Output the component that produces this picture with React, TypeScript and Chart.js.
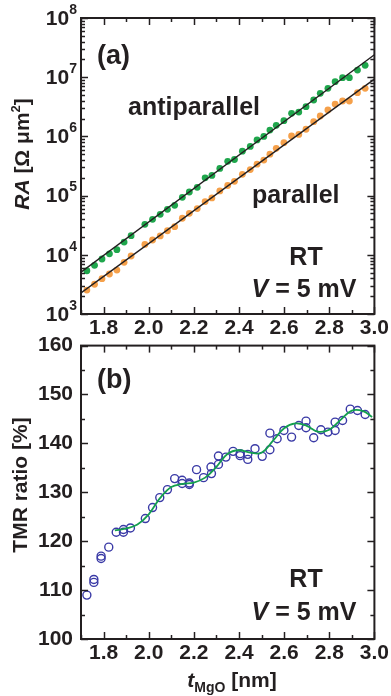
import React, { useEffect, useRef } from 'react';
import { Chart, registerables } from 'chart.js';
Chart.register(...registerables);

// ---------- data ----------
const thicknessA = [1.726, 1.760, 1.793, 1.826, 1.859, 1.891, 1.922, 1.983, 2.017, 2.051, 2.083, 2.115, 2.149,
  2.180, 2.215, 2.250, 2.280, 2.315, 2.350, 2.380, 2.415, 2.450, 2.480, 2.510, 2.537, 2.565, 2.599, 2.633,
  2.665, 2.697, 2.731, 2.760, 2.794, 2.826, 2.859, 2.889, 2.925, 2.959];
const raAntiparallel = [5380, 6650, 8490, 10400, 12200, 16400, 21000, 32700, 39800, 48300, 58700, 68600, 93500,
  115000, 138000, 200000, 219000, 288000, 380000, 407000, 562000, 676000, 871000, 1000000, 1280000, 1540000,
  1840000, 2450000, 2580000, 3180000, 4120000, 5350000, 6490000, 8390000, 9820000, 9820000, 13200000, 15900000];
const raParallel = [2540, 3180, 3950, 4740, 5530, 7460, 9550, 15000, 17800, 20800, 25500, 29900, 41400,
  50100, 60300, 79400, 91200, 120000, 148000, 174000, 229000, 275000, 339000, 398000, 501000, 630000,
  783000, 1016000, 1080000, 1320000, 1770000, 2210000, 2790000, 3520000, 3960000, 3960000, 5470000, 6490000];
const fitX = [1.7, 3.0];
const fitAntiparallel = [5100, 24000000];
const fitParallel = [2270, 9300000];

const tmrX = [1.726, 1.757, 1.757, 1.789, 1.789, 1.823, 1.856, 1.888, 1.888, 1.919, 1.985, 2.017, 2.049, 2.083,
  2.115, 2.148, 2.148, 2.180, 2.180, 2.212, 2.243, 2.276, 2.278, 2.309, 2.309, 2.342, 2.374, 2.405, 2.405,
  2.439, 2.439, 2.471, 2.503, 2.537, 2.537, 2.569, 2.599, 2.633, 2.665, 2.697, 2.697, 2.731, 2.763, 2.794,
  2.826, 2.826, 2.859, 2.893, 2.925, 2.959];
const tmrRatio = [108.98, 111.57, 112.18, 116.47, 116.94, 118.78, 121.84, 121.84, 122.39, 122.71, 124.63, 126.88,
  128.92, 130.55, 132.8, 132.45, 131.8, 131.9, 131.6, 134.63, 133.0, 135.16, 133.82, 137.41, 135.71, 137.2,
  138.37, 137.9, 137.5, 136.73, 137.76, 138.92, 137.35, 138.71, 142.1, 140.96, 142.65, 141.29, 143.67, 144.55,
  143.2, 141.16, 142.8, 142.31, 142.65, 144.35, 144.69, 147.0, 146.73, 145.92];
const smoothX = [1.85, 1.90, 1.95, 2.00, 2.05, 2.10, 2.15, 2.20, 2.25, 2.30, 2.35, 2.40, 2.45, 2.50, 2.55,
  2.60, 2.65, 2.70, 2.75, 2.80, 2.85, 2.90, 2.95, 2.99];
const smoothY = [122.2, 122.6, 123.4, 125.5, 128.8, 131.1, 131.7, 132.0, 133.0, 135.2, 137.9, 138.6, 138.1,
  138.1, 140.5, 143.1, 144.1, 143.6, 142.4, 142.8, 144.8, 146.7, 146.6, 145.4];

const xMin = 1.7, xMax = 3.0, xStep = 0.1;
const raMin = 1e3, raMax = 1e8;
const tmrMin = 100, tmrMax = 160, tmrStep = 5;

// ---------- styles ----------
const FAM = '"Liberation Sans", Arial, Helvetica, sans-serif';
const INK = '#231f20';
const GREEN_DOT = '#1fa64c';
const ORANGE_DOT = '#f5a04a';
const BLUE = '#3a3aa6';
const GREEN_LINE = '#14a04e';

type Seg = { t: string; size: number; italic?: boolean; dy?: number };
const fontOf = (s: Seg) => `${s.italic ? 'italic ' : ''}bold ${s.size}px ${FAM}`;

function drawRich(ctx: CanvasRenderingContext2D, segs: Seg[], x: number, y: number, align: 'left' | 'center' | 'right') {
  let w = 0;
  for (const s of segs) { ctx.font = fontOf(s); w += ctx.measureText(s.t).width; }
  let cx = align === 'center' ? x - w / 2 : align === 'right' ? x - w : x;
  ctx.textAlign = 'left';
  for (const s of segs) {
    ctx.font = fontOf(s);
    ctx.fillText(s.t, cx, y + (s.dy || 0));
    cx += ctx.measureText(s.t).width;
  }
}

const isEvenTenth = (v: number) => Math.round(v * 10) % 2 === 0;

function frameAndTicks(kind: 'A' | 'B') {
  return {
    id: 'frameTicks' + kind,
    afterDatasetsDraw(chart: any) {
      const { ctx, chartArea: a, scales } = chart;
      ctx.save();
      ctx.strokeStyle = INK;
      ctx.lineWidth = 1.5;
      const seg = (x1: number, y1: number, x2: number, y2: number) => {
        ctx.beginPath(); ctx.moveTo(x1, y1); ctx.lineTo(x2, y2); ctx.stroke();
      };
      const xs = scales.x;
      for (const t of xs.ticks) {
        const px = Math.round(xs.getPixelForValue(t.value)) + 0.5;
        const len = isEvenTenth(t.value) ? 7 : 4;
        seg(px, a.bottom, px, a.bottom - len);
        seg(px, a.top, px, a.top + len);
      }
      const ys = scales.y;
      if (kind === 'A') {
        const e0 = Math.round(Math.log10(ys.min)), e1 = Math.round(Math.log10(ys.max));
        for (let e = e0; e <= e1; e++) {
          for (let k = 1; k <= 9; k++) {
            const v = k * Math.pow(10, e);
            if (v < ys.min || v > ys.max) continue;
            const py = Math.round(ys.getPixelForValue(v)) + 0.5;
            const len = k === 1 ? 7 : 4;
            seg(a.left, py, a.left + len, py);
            seg(a.right, py, a.right - len, py);
          }
        }
      } else {
        for (const t of ys.ticks) {
          const py = Math.round(ys.getPixelForValue(t.value)) + 0.5;
          const len = Math.round(t.value) % 10 === 0 ? 7 : 4;
          seg(a.left, py, a.left + len, py);
          seg(a.right, py, a.right - len, py);
        }
      }
      ctx.lineWidth = 2;
      ctx.strokeRect(a.left, a.top, a.right - a.left, a.bottom - a.top);
      ctx.restore();
    },
    afterDraw(chart: any) {
      const { ctx, scales } = chart;
      ctx.save();
      ctx.fillStyle = INK;
      ctx.textBaseline = 'alphabetic';
      if (kind === 'A') {
        // log tick labels 10^n
        const ys = scales.y;
        const e0 = Math.round(Math.log10(ys.min)), e1 = Math.round(Math.log10(ys.max));
        for (let e = e0; e <= e1; e++) {
          const py = ys.getPixelForValue(Math.pow(10, e));
          ctx.font = `bold 14px ${FAM}`;
          const ew = ctx.measureText(String(e)).width;
          ctx.textBaseline = 'middle';
          ctx.textAlign = 'right';
          ctx.font = `bold 21px ${FAM}`;
          ctx.fillText('10', 77 - ew, py + 1);
          ctx.font = `bold 14px ${FAM}`;
          ctx.textAlign = 'left';
          ctx.fillText(String(e), 77 - ew, py - 8);
        }
        ctx.textBaseline = 'middle';
        drawRich(ctx, [{ t: '(a)', size: 27 }], 97, 57, 'left');
        ctx.textBaseline = 'alphabetic';
        drawRich(ctx, [{ t: 'antiparallel', size: 25 }], 128, 115, 'left');
        drawRich(ctx, [{ t: 'parallel', size: 25 }], 252, 203, 'left');
        drawRich(ctx, [{ t: 'RT', size: 25 }], 306, 265, 'center');
        drawRich(ctx, [{ t: 'V', size: 25, italic: true }, { t: ' = 5 mV', size: 25 }], 304, 297, 'center');
        // y title
        ctx.save();
        ctx.translate(23, 154);
        ctx.rotate(-Math.PI / 2);
        ctx.textBaseline = 'middle';
        drawRich(ctx, [
          { t: 'RA', size: 21, italic: true },
          { t: ' [Ω μm', size: 21 },
          { t: '2', size: 13, dy: -7 },
          { t: ']', size: 21 },
        ], 0, 0, 'center');
        ctx.restore();
      } else {
        const off = 325;
        ctx.textBaseline = 'middle';
        drawRich(ctx, [{ t: '(b)', size: 27 }], 97, 381 - off, 'left');
        ctx.textBaseline = 'alphabetic';
        drawRich(ctx, [{ t: 'RT', size: 25 }], 306, 587 - off, 'center');
        drawRich(ctx, [{ t: 'V', size: 25, italic: true }, { t: ' = 5 mV', size: 25 }], 304, 620 - off, 'center');
        drawRich(ctx, [
          { t: 't', size: 21, italic: true },
          { t: 'MgO', size: 14, dy: 5 },
          { t: ' [nm]', size: 21 },
        ], 232, 687 - off, 'center');
        ctx.save();
        ctx.translate(21, 485 - off);
        ctx.rotate(-Math.PI / 2);
        ctx.textBaseline = 'middle';
        drawRich(ctx, [{ t: 'TMR ratio [%]', size: 21 }], 0, 0, 'center');
        ctx.restore();
      }
      ctx.restore();
    },
  };
}

const pts = (xs: number[], ys: number[]) => xs.map((x, i) => ({ x, y: ys[i] }));

const xScale = (height: number) => ({
  type: 'linear',
  min: xMin,
  max: xMax,
  grid: { display: false, drawTicks: false },
  border: { display: false },
  ticks: {
    stepSize: xStep,
    includeBounds: false,
    autoSkip: false,
    maxRotation: 0,
    padding: 2,
    color: INK,
    font: { family: FAM, size: 21, weight: 'bold' },
    callback: (v: number) => (isEvenTenth(v) ? v.toFixed(1) : ''),
  },
  afterFit: (s: any) => { s.height = height; },
});

export default function App() {
  const refA = useRef<HTMLCanvasElement>(null);
  const refB = useRef<HTMLCanvasElement>(null);

  useEffect(() => {
    const chartA = new Chart(refA.current as HTMLCanvasElement, {
      type: 'scatter',
      data: {
        datasets: [
          { data: pts(fitX, fitAntiparallel), showLine: true, borderColor: INK, borderWidth: 1.4, pointRadius: 0, order: 0 },
          { data: pts(fitX, fitParallel), showLine: true, borderColor: INK, borderWidth: 1.4, pointRadius: 0, order: 1 },
          { data: pts(thicknessA, raAntiparallel), pointRadius: 3.4, backgroundColor: GREEN_DOT, borderWidth: 0, order: 2 },
          { data: pts(thicknessA, raParallel), pointRadius: 3.4, backgroundColor: ORANGE_DOT, borderWidth: 0, order: 3 },
        ],
      } as any,
      options: {
        animation: false,
        responsive: false,
        devicePixelRatio: 1,
        layout: { padding: { left: 0, right: 15, top: 18, bottom: 0 } },
        plugins: { legend: { display: false }, tooltip: { enabled: false } },
        scales: {
          x: xScale(31),
          y: {
            type: 'logarithmic',
            min: raMin,
            max: raMax,
            grid: { display: false, drawTicks: false },
            border: { display: false },
            ticks: { display: false },
            afterFit: (s: any) => { s.width = 81; },
          },
        },
      } as any,
      plugins: [frameAndTicks('A')],
    });

    const chartB = new Chart(refB.current as HTMLCanvasElement, {
      type: 'scatter',
      data: {
        datasets: [
          { data: pts(smoothX, smoothY), showLine: true, borderColor: GREEN_LINE, borderWidth: 1.8, pointRadius: 0, tension: 0.4, order: 0 },
          { data: pts(tmrX, tmrRatio), pointRadius: 4, pointBorderWidth: 1.4, borderColor: BLUE, backgroundColor: 'rgba(0,0,0,0)', pointBackgroundColor: 'rgba(0,0,0,0)', order: 1 },
        ],
      } as any,
      options: {
        animation: false,
        responsive: false,
        devicePixelRatio: 1,
        layout: { padding: { left: 0, right: 15, top: 20, bottom: 0 } },
        plugins: { legend: { display: false }, tooltip: { enabled: false } },
        scales: {
          x: xScale(57),
          y: {
            type: 'linear',
            min: tmrMin,
            max: tmrMax,
            grid: { display: false, drawTicks: false },
            border: { display: false },
            ticks: {
              stepSize: tmrStep,
              autoSkip: false,
              padding: 8,
              color: INK,
              font: { family: FAM, size: 21, weight: 'bold' },
              callback: (v: number) => (Math.round(v) % 10 === 0 ? String(Math.round(v)) : ''),
            },
            afterFit: (s: any) => { s.width = 81; },
          },
        },
      } as any,
      plugins: [frameAndTicks('B')],
    });

    return () => { chartA.destroy(); chartB.destroy(); };
  }, []);

  return (
    <div style={{ position: 'fixed', left: 0, top: 0, width: 391, height: 696, background: '#ffffff', overflow: 'hidden' }}>
      <canvas ref={refA} width={391} height={345} style={{ position: 'absolute', left: 0, top: 0, width: 391, height: 345 }} />
      <canvas ref={refB} width={391} height={371} style={{ position: 'absolute', left: 0, top: 325, width: 391, height: 371 }} />
    </div>
  );
}
